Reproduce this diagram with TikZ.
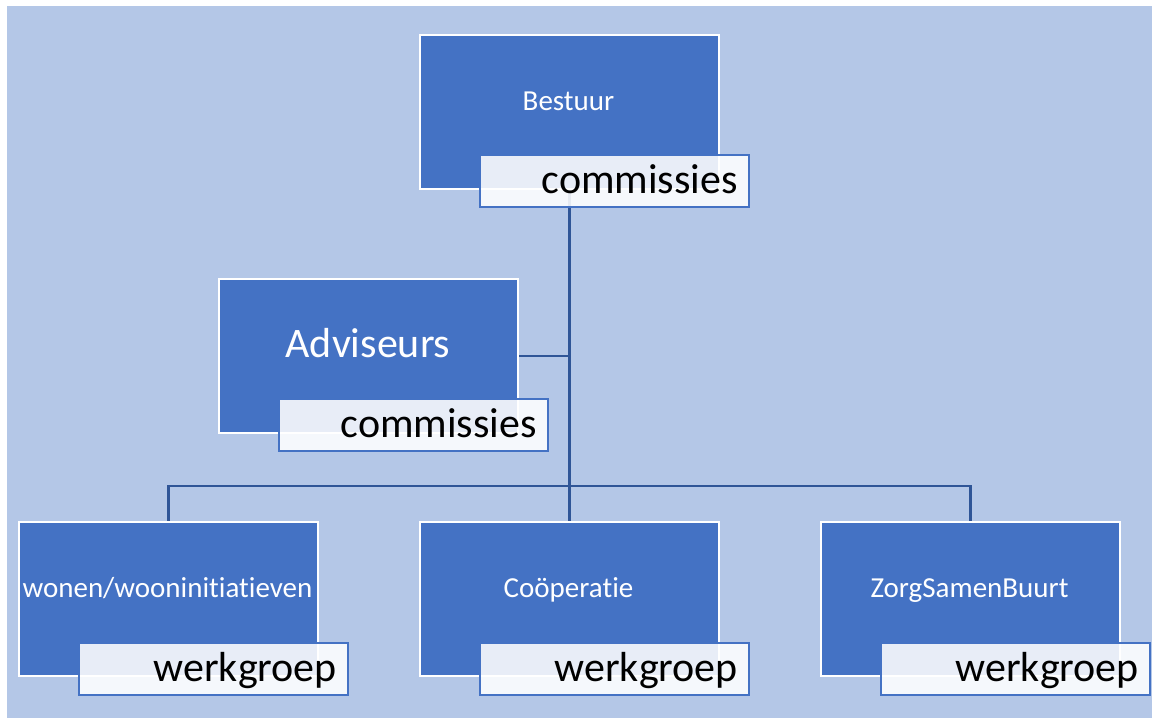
\documentclass[tikz,border=0pt]{standalone}
\usepackage{fontspec}
\setmainfont{Carlito}[Ligatures=NoCommon]
\definecolor{bgblue}{HTML}{B4C7E7}
\definecolor{boxblue}{HTML}{4472C4}
\definecolor{lineblue}{HTML}{2F5597}
\pgfdeclarelayer{bglayer}
\pgfdeclarelayer{linelayer}
\pgfsetlayers{bglayer,linelayer,main}
\tikzset{
  mainbox/.style={draw=white, line width=2pt, fill=boxblue, rectangle, inner sep=0pt,
    minimum width=299pt, minimum height=154pt, anchor=north west},
  subbox/.style={draw=boxblue, line width=2pt, fill=white, fill opacity=0.88, rectangle, inner sep=0pt,
    minimum width=269pt, minimum height=52pt, anchor=north west},
  smalllabel/.style={text=white, inner sep=0pt, anchor=base, font=\fontsize{29}{34}\selectfont},
  biglabel/.style={text=white, inner sep=0pt, anchor=base, font=\fontsize{42}{50}\selectfont},
  sublabel/.style={text=black, inner sep=0pt, anchor=base east, font=\fontsize{42}{50}\selectfont},
  conn/.style={draw=lineblue, line width=2.5pt}
}
\begin{document}
\begin{tikzpicture}[x=1pt,y=-1pt]
\useasboundingbox (0,0) rectangle (1152,718);
\begin{pgfonlayer}{bglayer}
\fill[bgblue] (7,6) rectangle (1152,718);
\end{pgfonlayer}

% main boxes
\node[mainbox] (bestuur) at (419,34) {};
\node[mainbox] (advis) at (218,278) {};
\node[mainbox] (wonen) at (18,521) {};
\node[mainbox] (coop) at (419,521) {};
\node[mainbox] (zorg) at (820,521) {};

% connectors (behind boxes)
\begin{pgfonlayer}{linelayer}
\coordinate (bar) at (568.5,486);
\draw[conn] (bestuur.south) -- (coop.north);
\draw[conn] (advis.east) -- (advis.east -| bestuur.south);
\draw[conn] (wonen.north) |- (bar) -| (zorg.north);
\end{pgfonlayer}

% sub boxes
\node[subbox] (bsub) at (479,154) {};
\node[subbox] (asub) at (278,398) {};
\node[subbox] (wsub) at (78,642) {};
\node[subbox] (csub) at (479,642) {};
\node[subbox] (zsub) at (880,642) {};

% labels
\node[smalllabel] (tbestuur) at (568.5,110) {Bestuur};
\node[biglabel] (tadvis) at (368,357) {Adviseurs};
\node[smalllabel] (twonen) at (167.5,597.5) {wonen/wooninitiatieven};
\node[smalllabel] (tcoop) at (568.5,597.5) {Coöperatie};
\node[smalllabel] (tzorg) at (969.5,597.5) {ZorgSamenBuurt};

\node[sublabel] (tbsub) at (738,193) {commissies};
\node[sublabel] (tasub) at (537,437) {commissies};
\node[sublabel] (twsub) at (337,681) {werkgroep};
\node[sublabel] (tcsub) at (738,681) {werkgroep};
\node[sublabel] (tzsub) at (1139,681) {werkgroep};
\end{tikzpicture}
\end{document}
